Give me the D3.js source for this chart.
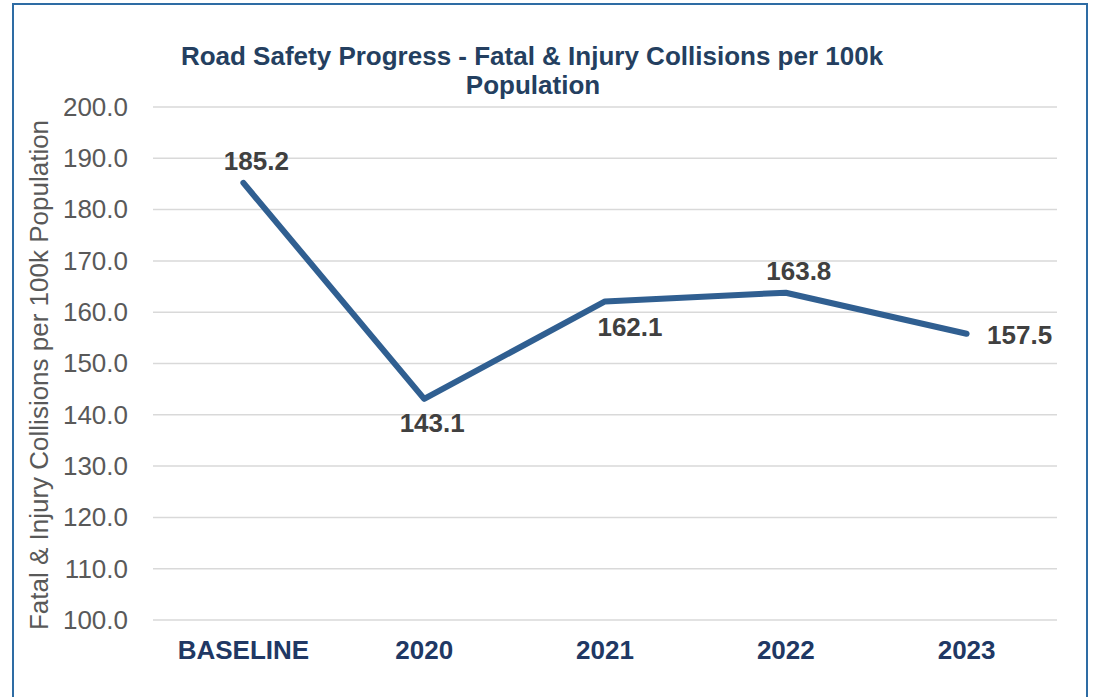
<!DOCTYPE html>
<html>
<head>
<meta charset="utf-8">
<script src="https://cdn.jsdelivr.net/npm/d3@7"></script>
<style>
  body { margin: 0; background: #fff; }
  text { font-family: "Liberation Sans", Arial, sans-serif; }
</style>
</head>
<body>
<div id="chart"></div>
<script>
// chart data
var categories = ["BASELINE", "2020", "2021", "2022", "2023"];
var values = [185.2, 143.1, 162.1, 163.8, 155.8];
var labels = ["185.2", "143.1", "162.1", "163.8", "157.5"];
var yTicks = [100, 110, 120, 130, 140, 150, 160, 170, 180, 190, 200];
// label placement relative to point
var labelPos = ["above", "below", "belowRight", "above", "right"];

var WIDTH = 1094, HEIGHT = 697;
var margin = {top: 107, right: 37, bottom: 77, left: 153};

var svg = d3.select("#chart").append("svg")
    .attr("width", WIDTH)
    .attr("height", HEIGHT);

// outer frame
svg.append("rect")
    .attr("x", 13).attr("y", 4)
    .attr("width", 1074).attr("height", 720)
    .attr("fill", "none")
    .attr("stroke", "#2e6ca4")
    .attr("stroke-width", 2);

var x = d3.scaleBand()
    .domain(categories)
    .range([margin.left, WIDTH - margin.right]);

var y = d3.scaleLinear()
    .domain([100, 200])
    .range([HEIGHT - margin.bottom, margin.top]);

// gridlines
svg.append("g").selectAll("line")
    .data(yTicks).enter().append("line")
    .attr("x1", margin.left).attr("x2", WIDTH - margin.right)
    .attr("y1", function (d) { return y(d); })
    .attr("y2", function (d) { return y(d); })
    .attr("stroke", "#d9d9d9")
    .attr("stroke-width", 1.5);

// y axis labels
var yAxis = svg.append("g")
    .attr("transform", "translate(" + (margin.left - 25) + ",0)")
    .call(d3.axisLeft(y).tickValues(yTicks).tickFormat(d3.format(".1f")).tickSize(0).tickPadding(0));
yAxis.select(".domain").remove();
yAxis.selectAll("text")
    .attr("fill", "#595959")
    .style("font-size", "26px");

// x axis labels
var xAxis = svg.append("g")
    .attr("transform", "translate(0," + (HEIGHT - margin.bottom) + ")")
    .call(d3.axisBottom(x).tickSize(0).tickPadding(21));
xAxis.select(".domain").remove();
xAxis.selectAll("text")
    .attr("fill", "#203864")
    .style("font-size", "26px")
    .style("font-weight", "bold");

// y title
svg.append("text")
    .attr("transform", "translate(48,375)rotate(-90)")
    .attr("text-anchor", "middle")
    .attr("fill", "#595959")
    .style("font-size", "26px")
    .text("Fatal & Injury Collisions per 100k Population");

// title
var title = svg.append("text")
    .attr("text-anchor", "middle")
    .attr("fill", "#243f60")
    .style("font-size", "26px")
    .style("font-weight", "bold");
title.append("tspan").attr("x", 532).attr("y", 65)
    .text("Road Safety Progress - Fatal & Injury Collisions per 100k");
title.append("tspan").attr("x", 533).attr("y", 94)
    .text("Population");

// line
var line = d3.line()
    .x(function (d, i) { return x(categories[i]) + x.bandwidth() / 2; })
    .y(function (d) { return y(d); });

svg.append("path")
    .datum(values)
    .attr("d", line)
    .attr("fill", "none")
    .attr("stroke", "#305f91")
    .attr("stroke-width", 6)
    .attr("stroke-linecap", "round")
    .attr("stroke-linejoin", "round");

// data labels
var offsets = {
    above: [13, -13],
    below: [8, 33],
    belowRight: [25, 35],
    right: [53, 10]
};

svg.append("g").selectAll("text")
    .data(values).enter().append("text")
    .attr("x", function (d, i) { return x(categories[i]) + x.bandwidth() / 2 + offsets[labelPos[i]][0]; })
    .attr("y", function (d, i) { return y(d) + offsets[labelPos[i]][1]; })
    .attr("text-anchor", "middle")
    .attr("fill", "#404040")
    .style("font-size", "26px")
    .style("font-weight", "bold")
    .text(function (d, i) { return labels[i]; });
</script>
</body>
</html>
